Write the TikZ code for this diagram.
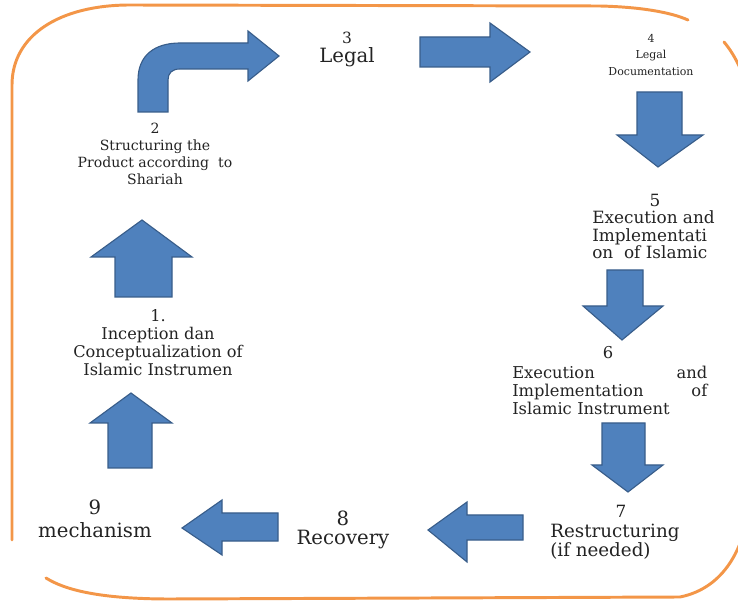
\documentclass[tikz,border=0pt]{standalone}
\usepackage{fontspec}
\setmainfont{DejaVu Serif}
\usepackage{tikz}
\definecolor{arrowblue}{RGB}{79,129,189}
\definecolor{arrowedge}{RGB}{56,93,138}
\definecolor{frameorange}{RGB}{243,150,72}
\definecolor{txtgray}{RGB}{35,35,35}
\newcommand{\setfs}[2]{\fontsize{#1}{#2}\selectfont}
\tikzset{
  lbl/.style={align=center, inner sep=0pt, text=txtgray},
  blockarr/.style={fill=arrowblue, draw=arrowedge, line width=0.8pt, line join=miter},
  frame/.style={draw=frameorange, line width=2.1pt, line cap=round}}

\begin{document}
\begin{tikzpicture}[x=0.025cm, y=-0.025cm]
  \useasboundingbox (0,0) rectangle (738,603);
  \clip (0,0) rectangle (738,603);
  % frame
  \draw[frame] (12,540) -- (12,85) .. controls (12,35) and (60,5) .. (130,5) -- (600,6) .. controls (640,7) and (670,12) .. (688,20);
  \draw[frame] (724,42) .. controls (736,56) and (746,78) .. (752,105) -- (752,470) .. controls (752,545) and (725,588) .. (680,597) -- (170,599) .. controls (100,599) and (65,590) .. (46,578);
  % arrows
  \draw[blockarr] (138,112) -- (138,80) .. controls (138,55) and (155,43) .. (180,43) -- (248,43) -- (248,31) -- (279,56) -- (248,81) -- (248,69) -- (180,69) .. controls (172,69) and (168,73) .. (168,80) -- (168,112) -- cycle;
  \draw[blockarr] (420,37) -- (490,37) -- (490,23) -- (530,52) -- (490,82) -- (490,67) -- (420,67) -- cycle;
  \draw[blockarr] (637,92) -- (682,92) -- (682,135) -- (703,135) -- (658,167) -- (617,135) -- (637,135) -- cycle;
  \draw[blockarr] (607,270) -- (643,270) -- (643,306) -- (663,306) -- (622,340) -- (583,306) -- (607,306) -- cycle;
  \draw[blockarr] (602,423) -- (645,423) -- (645,465) -- (663,465) -- (628,492) -- (592,465) -- (602,465) -- cycle;
  \draw[blockarr] (523,515) -- (523,540) -- (467,540) -- (467,562) -- (428,530) -- (467,502) -- (467,515) -- cycle;
  \draw[blockarr] (278,513) -- (278,541) -- (222,541) -- (222,555) -- (182,528) -- (222,500) -- (222,513) -- cycle;
  \draw[blockarr] (108,468) -- (108,423) -- (90,423) -- (131,393) -- (172,423) -- (152,423) -- (152,468) -- cycle;
  \draw[blockarr] (115,297) -- (115,257) -- (91,257) -- (142,220) -- (192,257) -- (172,257) -- (172,297) -- cycle;
  % steps
  \node[lbl, font=\setfs{11.5}{12.8}] (s1) at (158,343) {1.\\Inception dan\\Conceptualization of\\Islamic Instrumen};
  \node[lbl, font=\setfs{10}{12}] (s2) at (155,154) {2\\Structuring the\\Product according\ \ to\\Shariah};
  \node[lbl, font=\setfs{11}{12}] (n3) at (347,38) {3};
  \node[lbl, font=\setfs{14}{15}] (s3) at (347,57) {Legal};
  \node[lbl, font=\setfs{7.8}{12}] (s4) at (651,55) {4\\Legal\\Documentation};
  \node[lbl, font=\setfs{12}{12.3}] (n5) at (655,200) {5};
  \node[lbl, font=\setfs{12}{12.3}, align=left, anchor=west] (s5) at (592,235) {Execution and\\Implementati\\on\ \ of Islamic};
  \node[lbl, font=\setfs{11.6}{12.8}] (n6) at (608,353) {6};
  \node[lbl, font=\setfs{11.6}{12.8}, text width=4.875cm, align=left, anchor=west] (s6) at (512,390) {Execution\hfill and\\Implementation\hfill of\\Islamic Instrument};
  \node[lbl, font=\setfs{12}{13}] (n7) at (621,511) {7};
  \node[lbl, font=\setfs{13}{13.5}, align=left, anchor=west] (s7) at (550,542) {Restructuring\\(if needed)};
  \node[lbl, font=\setfs{14}{14}] (s8) at (343,530) {8\\Recovery};
  \node[lbl, font=\setfs{14}{16}] (s9) at (95,519) {9\\mechanism};
\end{tikzpicture}
\end{document}
